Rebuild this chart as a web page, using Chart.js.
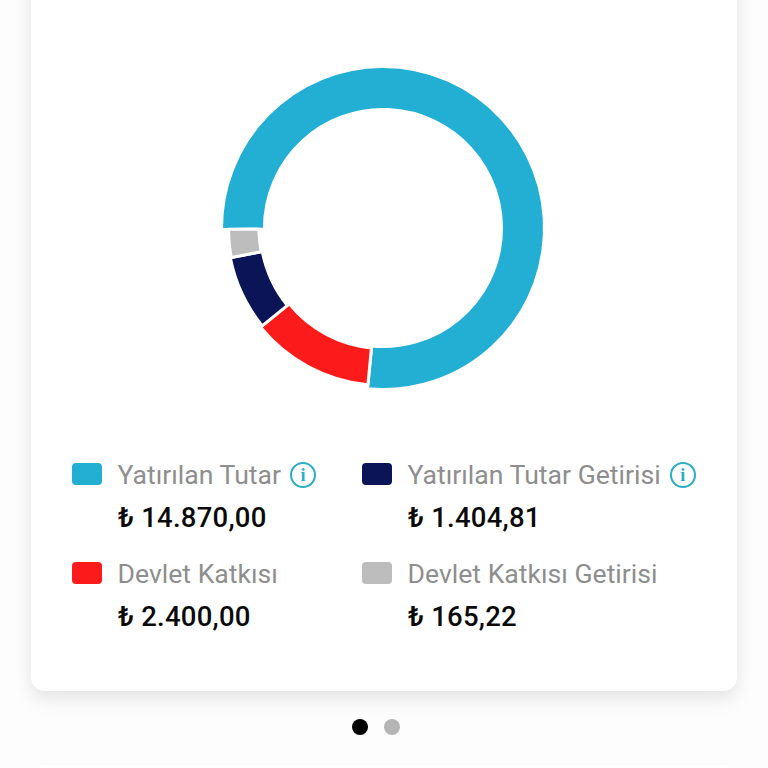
<!DOCTYPE html>
<html lang="tr">
<head>
<meta charset="utf-8">
<title>Birikim</title>
<script src="https://cdn.jsdelivr.net/npm/chart.js@4"></script>
<style>
  html, body { margin: 0; padding: 0; background: #fdfdfd; }
  body { width: 768px; height: 768px; position: relative; overflow: hidden; font-family: Roboto, sans-serif; }
  .card { position: absolute; left: 31px; top: -40px; width: 706px; height: 731px; background: #fff; border-radius: 14px; box-shadow: 0 8px 18px rgba(0,0,0,0.10); }
  .ring { position: absolute; left: 213px; top: 58px; width: 340px; height: 340px; }
  .item { position: absolute; width: 350px; height: 80px; }
  .swatch { position: absolute; left: 0; top: 0; width: 30px; height: 22px; border-radius: 4px; }
  .name { position: absolute; left: 45.5px; top: -3px; font-size: 26.6px; line-height: 30px; color: #8e8e8e; white-space: nowrap; }
  .amount { position: absolute; left: 46px; top: 39px; font-size: 27.5px; line-height: 32px; font-weight: 500; letter-spacing: 0.25px; color: #0a0a0a; white-space: nowrap; }
  .info { display: inline-block; box-sizing: border-box; width: 26px; height: 26px; margin-left: 9px; border: 2px solid #2aaec4; border-radius: 50%; color: #2aaec4; font: bold 18px/22px "Liberation Serif", serif; text-align: center; vertical-align: 3px; }
  .dot { position: absolute; top: 719px; width: 16px; height: 16px; border-radius: 50%; }
  .next { position: absolute; left: 40px; top: 765px; width: 688px; height: 20px; background: #fff; box-shadow: 0 -1px 4px rgba(0,0,0,0.02); }
</style>
</head>
<body>
<div class="card"></div>
<div class="ring"><canvas id="ringChart" width="340" height="340"></canvas></div>
<div id="legend"></div>
<div class="dot" style="left:352px;background:#000"></div>
<div class="dot" style="left:384px;background:#b5b5b5"></div>
<div class="next"></div>

<script>
// ---- Data ----
const categories = ['Yatırılan Tutar', 'Devlet Katkısı', 'Yatırılan Tutar Getirisi', 'Devlet Katkısı Getirisi'];
const amounts = ['₺ 14.870,00', '₺ 2.400,00', '₺ 1.404,81', '₺ 165,22'];
// slice sizes as drawn in the picture, in degrees (they do not follow the amounts exactly)
const sliceDegrees = [276, 45.5, 28, 10.5];
const hasInfo = [true, false, true, false];

// ---- Styles ----
const colors = ['#22afd3', '#fb1b1b', '#0a1456', '#bdbdbd'];
const legendSpots = [[72, 463], [72, 562], [362, 463], [362, 562]];
const outerTrim = [0, 4, 6, 7];
const innerTrim = [0, 2, 4.5, 5.5];

// ---- Legend ----
const legend = document.getElementById('legend');
categories.forEach((name, i) => {
  const item = document.createElement('div');
  item.className = 'item';
  item.style.left = legendSpots[i][0] + 'px';
  item.style.top = legendSpots[i][1] + 'px';
  item.innerHTML = '<div class="swatch" style="background:' + colors[i] + '"></div>' +
    '<div class="name">' + name + (hasInfo[i] ? '<span class="info">i</span>' : '') + '</div>' +
    '<div class="amount">' + amounts[i] + '</div>';
  legend.appendChild(item);
});

// ---- Ring ----
// the smaller slices sit slightly thinner than the main one
const thinSlices = {
  id: 'thinSlices',
  afterDatasetsUpdate(chart) {
    chart.getDatasetMeta(0).data.forEach((arc, i) => {
      arc.outerRadius -= outerTrim[i];
      arc.innerRadius += innerTrim[i];
    });
  }
};

new Chart(document.getElementById('ringChart'), {
  type: 'doughnut',
  data: {
    labels: categories,
    datasets: [{
      data: sliceDegrees,
      backgroundColor: colors,
      borderColor: '#ffffff',
      borderWidth: 3
    }]
  },
  options: {
    responsive: false,
    animation: false,
    rotation: -90.5,
    radius: 161.5,
    cutout: '73.4%',
    plugins: { legend: { display: false }, tooltip: { enabled: false } }
  },
  plugins: [thinSlices]
});
</script>
</body>
</html>
